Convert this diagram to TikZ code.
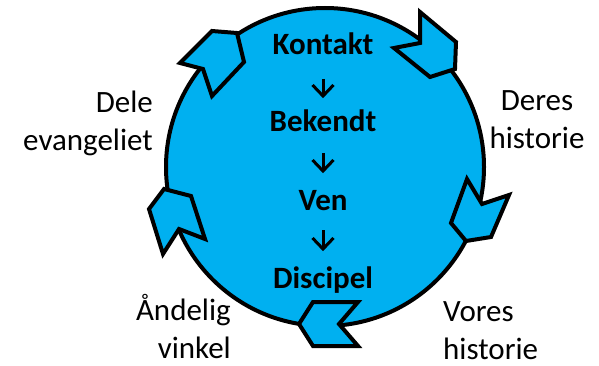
\documentclass[tikz,border=0pt]{standalone}
\usepackage{fontspec}
\setmainfont{Carlito}
\definecolor{cycleblue}{HTML}{00B0F0}
\tikzset{
  ring/.style={draw=black, line width=4pt, fill=cycleblue},
  chev/.style={draw=black, line width=4pt, fill=cycleblue, line join=miter},
  stage/.style={font=\fontsize{31}{38}\selectfont\bfseries, inner sep=0pt, anchor=base},
  sidelabel/.style={font=\fontsize{31}{38}\selectfont, inner sep=0pt},
  flow/.style={draw=black, line width=3pt, line join=miter}
}
\begin{document}
\begin{tikzpicture}[x=1pt,y=-1pt]
\useasboundingbox (0,0) rectangle (599,366);
% main circle
\node[ring, circle, minimum size=318pt, inner sep=0pt] (circ) at (325,167) {};
% chevron arrows on the circle (clockwise)
\draw[chev] (212,31) -- (237,33) -- (244,62) -- (212,96) -- (203,69) -- (180,63) -- cycle;
\draw[chev] (420,12) -- (456,42) -- (455,69) -- (430,77) -- (394,48) -- (420,43) -- cycle;
\draw[chev] (467,179) -- (482,204) -- (509,195) -- (491,237) -- (466,241) -- (451,223) -- cycle;
\draw[chev] (358,302) -- (339,324) -- (358,346) -- (313,346) -- (299,324) -- (313,302) -- cycle;
\draw[chev] (164,189) -- (191,196) -- (205,239) -- (179,229) -- (163,254) -- (149,209) -- cycle;
% stages
\node[stage] (kontakt) at (323,55) {Kontakt};
\node[stage] (bekendt) at (323,132) {Bekendt};
\node[stage] (ven) at (323,210) {Ven};
\node[stage] (discipel) at (323,288) {Discipel};
% down arrows between the stages
\coordinate (a1s) at (323,79);
\coordinate (a1e) at (323,96);
\coordinate (a2s) at (323,153);
\coordinate (a2e) at (323,171);
\coordinate (a3s) at (323,230);
\coordinate (a3e) at (323,249);
\foreach \s/\e in {a1s/a1e, a2s/a2e, a3s/a3e}{
  \draw[flow] (\s) -- (\e);
  \draw[flow] ([shift={(-10.5,-11)}]\e) -- (\e) -- ([shift={(10.5,-11)}]\e);
}
% side labels
\node[sidelabel, align=right, anchor=north east] (dele) at (153,85.4) {\strut Dele\\evangeliet};
\node[sidelabel, align=center, anchor=north] (deres) at (537,84) {\strut Deres\\historie};
\node[sidelabel, align=left, anchor=north west] (vores) at (443,294.4) {\strut Vores\\historie};
\node[sidelabel, align=right, anchor=north east] (aandelig) at (231,294) {\strut Åndelig\\vinkel};
\end{tikzpicture}
\end{document}
